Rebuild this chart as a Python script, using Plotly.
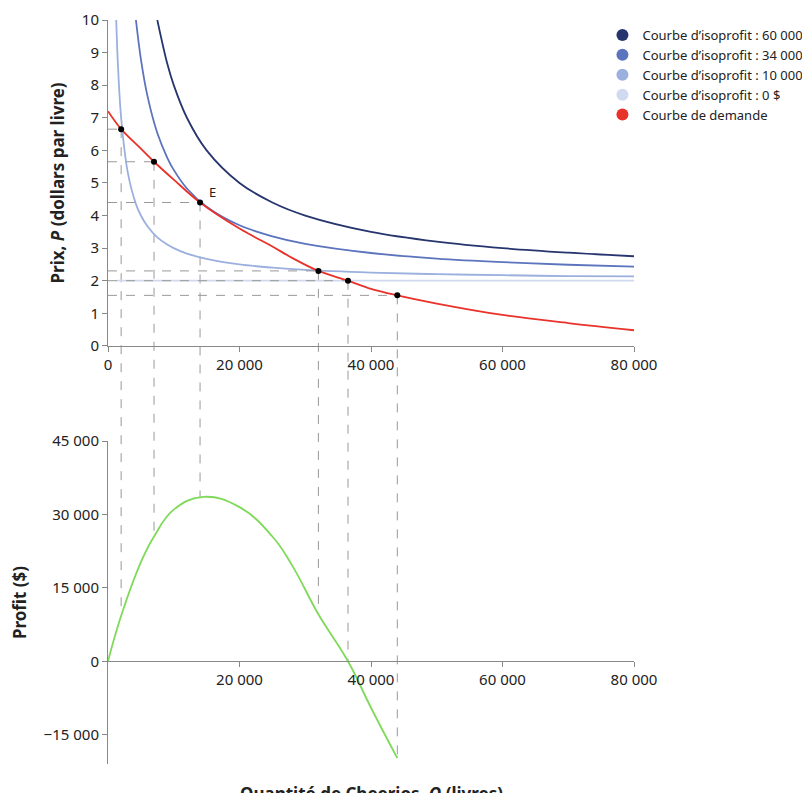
import plotly.graph_objects as go
from plotly.subplots import make_subplots

# --- données ---
iso_q = [1250, 1500, 2000, 3000, 4250, 5000, 6000, 7500, 9000, 10000, 12000, 15000, 20000, 25000, 30000, 40000, 50000, 60000, 70000, 80000]
iso_60000 = [None, None, None, None, None, None, None, 10.0, 8.67, 8.0, 7.0, 6.0, 5.0, 4.4, 4.0, 3.5, 3.2, 3.0, 2.86, 2.75]
iso_34000 = [None, None, None, None, 10.0, 8.8, 7.67, 6.53, 5.78, 5.4, 4.83, 4.27, 3.7, 3.36, 3.13, 2.85, 2.68, 2.57, 2.49, 2.43]
iso_10000 = [10.0, 8.67, 7.0, 5.33, 4.35, 4.0, 3.67, 3.33, 3.11, 3.0, 2.83, 2.67, 2.5, 2.4, 2.33, 2.25, 2.2, 2.17, 2.14, 2.13]
iso_0 = [2.0] * len(iso_q)

dem_q = [0, 2000, 5000, 7000, 10000, 14000, 20000, 25000, 28000, 32000, 36500, 40000, 44000, 50000, 60000, 70000, 80000]
dem_p = [7.2, 6.65, 6.05, 5.65, 5.1, 4.4, 3.6, 3.05, 2.7, 2.3, 2.0, 1.75, 1.55, 1.3, 0.95, 0.7, 0.48]

prof_q = [0, 2000, 5000, 7000, 10000, 14500, 20000, 25000, 28000, 32000, 36500, 40000, 44000]
prof_v = [0, 9300, 20250, 25500, 31000, 33600, 31500, 25500, 19600, 9600, 0, -9500, -19800]

pts_q = [2000, 7000, 14000, 32000, 36500, 44000]
pts_p = [6.65, 5.65, 4.4, 2.3, 2.0, 1.55]
pts_prof = [9300, 25500, 33400, 9600, 0, -19800]

legend_names = ["Courbe d’isoprofit : 60 000 $", "Courbe d’isoprofit : 34 000 $",
                "Courbe d’isoprofit : 10 000 $", "Courbe d’isoprofit : 0 $", "Courbe de demande"]
colors = ["#27356f", "#5b74bd", "#9bb0de", "#cfdaf0", "#e8322a"]
green = "#7fd95a"
dash_col = "#999999"

top_dom = [0.562, 1.0]
bot_dom = [0.0, 0.434]
top_rng = [0, 10]
bot_rng = [-21000, 45000]

fig = make_subplots(rows=2, cols=1, vertical_spacing=0.0)

for ys, c in zip([iso_60000, iso_34000, iso_10000, iso_0], colors[:4]):
    fig.add_trace(go.Scatter(x=iso_q, y=ys, mode="lines", line=dict(color=c, width=1.8, shape="spline"),
                             showlegend=False, connectgaps=False), row=1, col=1)
fig.add_trace(go.Scatter(x=dem_q, y=dem_p, mode="lines", line=dict(color=colors[4], width=1.8, shape="spline"),
                         showlegend=False), row=1, col=1)

# pointillés horizontaux
for q, p in zip(pts_q, pts_p):
    fig.add_trace(go.Scatter(x=[0, q], y=[p, p], mode="lines", line=dict(color=dash_col, width=1, dash="dash"),
                             showlegend=False, hoverinfo="skip"), row=1, col=1)

fig.add_trace(go.Scatter(x=pts_q, y=pts_p, mode="markers", marker=dict(color="black", size=6),
                         showlegend=False), row=1, col=1)
fig.add_annotation(x=14000, y=4.4, text="E", showarrow=False, xshift=12, yshift=10,
                   font=dict(size=13, color="#222"), xref="x", yref="y")

fig.add_trace(go.Scatter(x=prof_q, y=prof_v, mode="lines", line=dict(color=green, width=1.8, shape="spline", smoothing=1.2),
                         showlegend=False), row=2, col=1)

# légende à marqueurs ronds
for name, c in zip(legend_names, colors):
    fig.add_trace(go.Scatter(x=[None], y=[None], mode="markers", name=name,
                             marker=dict(color=c, size=11)), row=1, col=1)


def to_paper(v, rng, dom):
    return dom[0] + (v - rng[0]) / (rng[1] - rng[0]) * (dom[1] - dom[0])


# pointillés verticaux traversant les deux graphiques
for q, p, pr in zip(pts_q, pts_p, pts_prof):
    fig.add_shape(type="line", xref="x", yref="paper", x0=q, x1=q,
                  y0=to_paper(p, top_rng, top_dom), y1=to_paper(pr, bot_rng, bot_dom),
                  line=dict(color=dash_col, width=1, dash="dash"), layer="below")

axis_style = dict(showgrid=False, zeroline=False, showline=True, linecolor="#888", ticks="outside",
                  tickcolor="#888", ticklen=5, tickfont=dict(size=15, color="#222"), tickformat=",d")

fig.update_xaxes(range=[0, 80000], tickvals=[0, 20000, 40000, 60000, 80000], **axis_style)
fig.update_xaxes(domain=[0, 1], row=1, col=1)
fig.update_xaxes(tickvals=[20000, 40000, 60000, 80000], anchor="free",
                 position=to_paper(0, bot_rng, bot_dom), row=2, col=1)
fig.update_yaxes(**axis_style)
fig.update_yaxes(range=top_rng, domain=top_dom, tickvals=list(range(11)), row=1, col=1,
                 title=dict(text="<b>Prix, <i>P</i> (dollars par livre)</b>", font=dict(size=17, color="#222"), standoff=12))
fig.update_yaxes(range=bot_rng, domain=bot_dom, tickvals=[-15000, 0, 15000, 30000, 45000], row=2, col=1,
                 title=dict(text="<b>Profit ($)</b>", font=dict(size=17, color="#222"), standoff=12))

fig.add_annotation(x=0.5, y=-0.022, xref="paper", yref="paper", yanchor="top", showarrow=False,
                   text="<b>Quantité de Cheerios, <i>Q</i> (livres)</b>", font=dict(size=17, color="#222"))

fig.update_layout(
    width=810, height=793,
    margin=dict(l=100, r=184, t=12, b=37, autoexpand=False),
    plot_bgcolor="white", paper_bgcolor="white",
    font=dict(family="Noto Sans, Open Sans, sans-serif", color="#222"),
    separators=", ",
    legend=dict(x=0.94, y=1.0, xanchor="left", yanchor="top", font=dict(size=13),
                bgcolor="rgba(0,0,0,0)", itemsizing="constant", tracegroupgap=2),
)

fig.write_html("out.html")
